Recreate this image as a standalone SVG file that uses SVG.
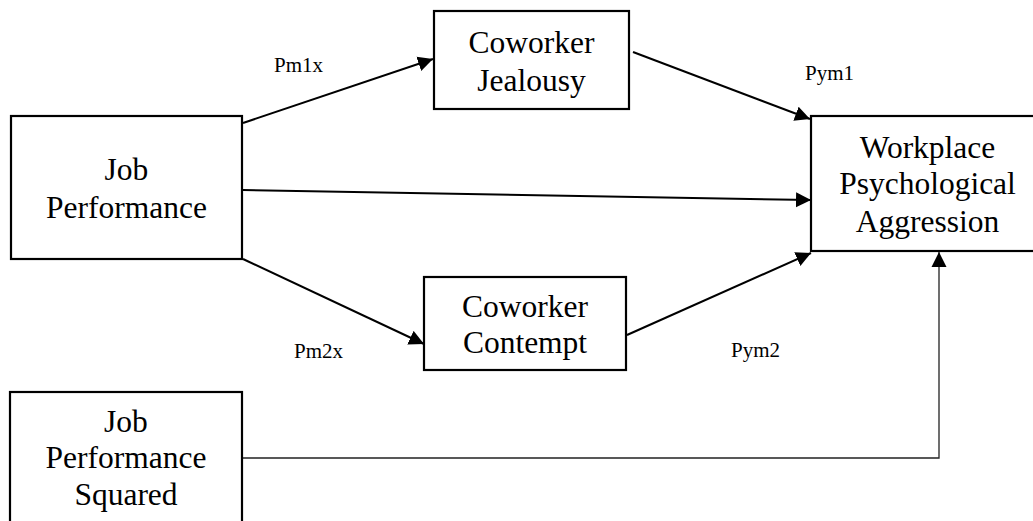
<svg xmlns="http://www.w3.org/2000/svg" width="1033" height="521" viewBox="0 0 1033 521">
  <style>
    .box { fill: #ffffff; stroke: #000000; stroke-width: 2.2; }
    .node-text { font-family: "Liberation Serif", "Times New Roman", serif; font-size: 31.5px; fill: #000000; text-anchor: middle; }
    .path-label { font-family: "Liberation Serif", "Times New Roman", serif; font-size: 21px; fill: #000000; }
    .edge { stroke: #000000; stroke-width: 2; fill: none; marker-end: url(#arrow); }
    .edge-thin { stroke: #222222; stroke-width: 1.3; fill: none; marker-end: url(#arrow); }
  </style>
  <defs>
    <marker id="arrow" markerUnits="userSpaceOnUse" markerWidth="16" markerHeight="16" viewBox="0 0 16 16" refX="15" refY="8" orient="auto">
      <path d="M0,0.5 L15,8 L0,15.5 Z" fill="#000000"/>
    </marker>
  </defs>

  <rect width="1033" height="521" fill="#ffffff"/>

  <!-- connectors -->
  <g id="connectors">
    <line class="edge" x1="243" y1="123" x2="433" y2="59"/>
    <line class="edge" x1="633" y1="52" x2="810" y2="119"/>
    <line class="edge" x1="243" y1="190" x2="811" y2="200"/>
    <line class="edge" x1="243" y1="259" x2="424" y2="344"/>
    <line class="edge" x1="627" y1="335" x2="811" y2="253"/>
    <polyline class="edge-thin" points="243,458 939,458 939,252"/>
  </g>

  <!-- path labels -->
  <g id="labels">
    <text class="path-label" x="274" y="72">Pm1x</text>
    <text class="path-label" x="805" y="80">Pym1</text>
    <text class="path-label" x="294" y="358">Pm2x</text>
    <text class="path-label" x="731" y="357">Pym2</text>
  </g>

  <g id="job-performance">
    <rect class="box" x="11" y="116" width="231" height="143"/>
    <text class="node-text" x="126.5" y="180">Job</text>
    <text class="node-text" x="126.5" y="218">Performance</text>
  </g>

  <g id="coworker-jealousy">
    <rect class="box" x="434" y="11" width="195" height="98"/>
    <text class="node-text" x="531.5" y="53">Coworker</text>
    <text class="node-text" x="531.5" y="91">Jealousy</text>
  </g>

  <g id="coworker-contempt">
    <rect class="box" x="424" y="277" width="202" height="93"/>
    <text class="node-text" x="525" y="317">Coworker</text>
    <text class="node-text" x="525" y="353">Contempt</text>
  </g>

  <g id="workplace-aggression">
    <rect class="box" x="811" y="116" width="233" height="135"/>
    <text class="node-text" x="927.5" y="158">Workplace</text>
    <text class="node-text" x="927.5" y="194">Psychological</text>
    <text class="node-text" x="927.5" y="232">Aggression</text>
  </g>

  <g id="job-performance-squared">
    <rect class="box" x="10" y="392" width="232" height="140"/>
    <text class="node-text" x="126" y="432">Job</text>
    <text class="node-text" x="126" y="468">Performance</text>
    <text class="node-text" x="126" y="505">Squared</text>
  </g>
</svg>
